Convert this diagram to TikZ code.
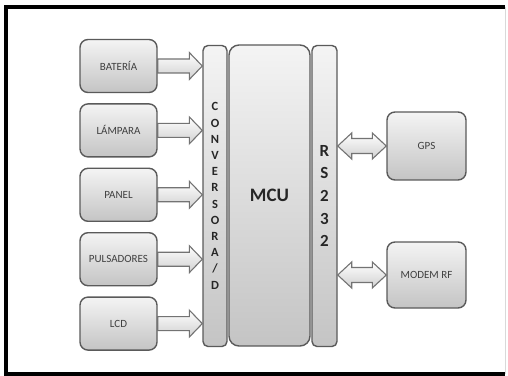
\documentclass[tikz,border=0pt]{standalone}
\usepackage{fontspec}
\setmainfont{Carlito}
\usetikzlibrary{positioning, calc}
\definecolor{DG}{RGB}{90,90,90}
\definecolor{TX}{RGB}{64,64,64}
\definecolor{LT}{RGB}{244,244,244}
\definecolor{MD}{RGB}{196,196,196}

\begin{document}
\begin{tikzpicture}[x=1pt, y=1pt,
  blk/.style={draw=DG, line width=1.4pt, rounded corners=8pt,
              top color=LT, bottom color=MD,
              minimum width=77pt, minimum height=53pt, inner sep=0pt,
              text=TX, font=\fontsize{11}{13}\selectfont},
  bar/.style={draw=DG, line width=1.4pt, rounded corners=5pt,
              top color=LT, bottom color=MD,
              minimum height=301pt, inner sep=0pt, align=center,
              text=black!85},
  arr/.style={draw=DG!85, line width=1.1pt, line join=miter,
              top color=white, bottom color=MD!80}
]
\useasboundingbox (0,0) rectangle (508,375);

% frame
\draw[black, line width=4pt] (505,368) -- (6,368) -- (6,1) -- (505,1);
\draw[black!15, line width=0.8pt] (505,368) -- (505,1);

% converter, MCU, RS232
\node[bar, minimum width=24pt,
      font=\fontsize{12.5}{16.2}\selectfont\bfseries]
  (conv) at (215,179) {C\\O\\N\\V\\E\\R\\S\\O\\R\\A\\/\\D};
\node[bar, minimum width=81pt, rounded corners=10pt,
      font=\fontsize{19}{22}\selectfont\bfseries]
  (mcu) at (269.5,179.5) {MCU};
\node[bar, minimum width=25pt,
      font=\fontsize{17}{22.7}\selectfont\bfseries]
  (rs) at (324.5,179) {R\\S\\2\\3\\2};

% inputs
\node[blk] (bat) at (118.5,309) {BATERÍA};
\node[blk, below=10pt of bat] (lam) {LÁMPARA};
\node[blk, below=10pt of lam] (pan) {PANEL};
\node[blk, below=10pt of pan] (pul) {PULSADORES};
\node[blk, below=10pt of pul] (lcd) {LCD};

% serial devices
\node[blk, minimum width=79pt, minimum height=68pt] (gps) at (426.5,229) {GPS};
\node[blk, minimum width=79pt, minimum height=66pt] (rf)  at (426.5,100) {MODEM RF};

% block arrows into the converter
\foreach \b in {bat, lam, pan, pul, lcd}
  \draw[arr] ($(\b.east)+(0,7)$) -- ($(conv.west |- \b.east)+(-13,7)$)
    -- ++(0,6.5) -- (conv.west |- \b.east) -- ++(-13,-13.5) -- ++(0,6.5)
    -- ($(\b.east)+(0,-7)$) -- cycle;

% two-way arrows to RS232
\foreach \d in {gps, rf}
  \draw[arr] (rs.east |- \d.west) -- ++(14,13) -- ++(0,-5.5)
    -- ($(\d.west)+(-14,7.5)$) -- ++(0,5.5) -- (\d.west) -- ++(-14,-13)
    -- ++(0,5.5) -- ($(rs.east |- \d.west)+(14,-7.5)$) -- ++(0,-5.5) -- cycle;
\end{tikzpicture}
\end{document}
